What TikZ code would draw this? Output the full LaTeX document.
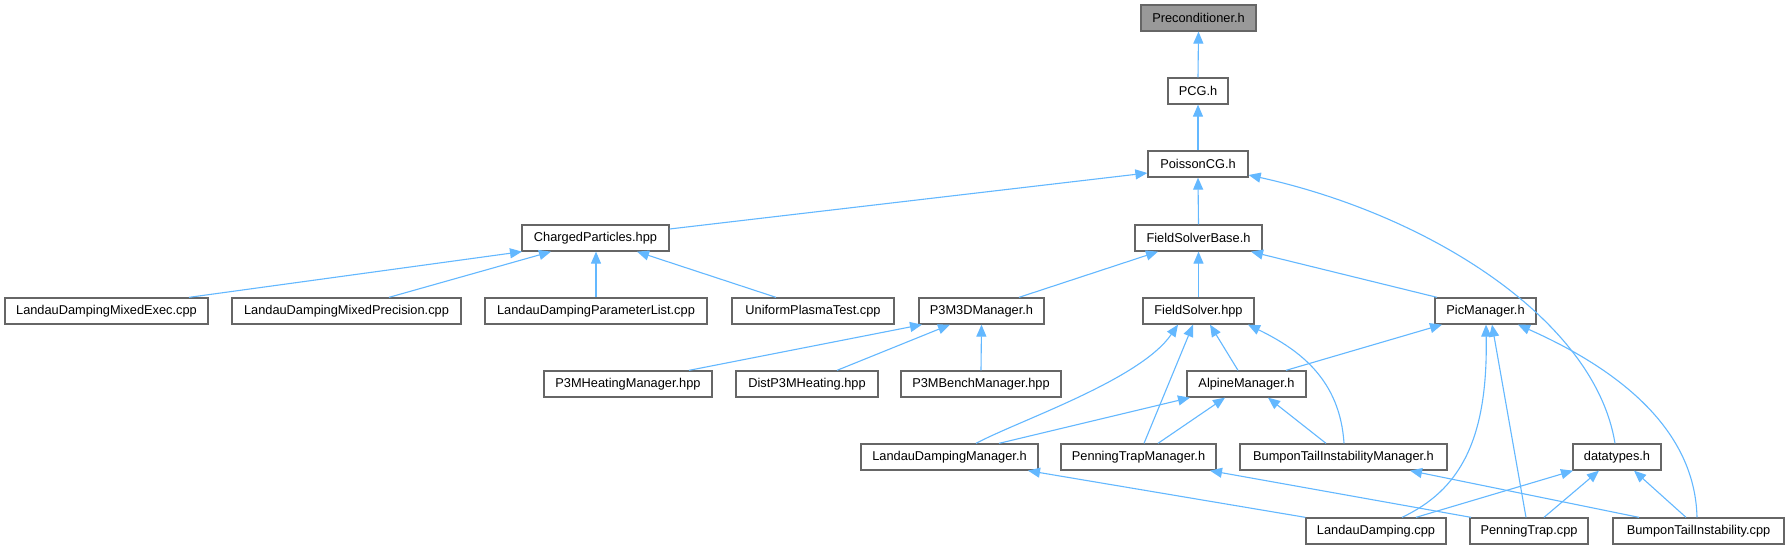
\documentclass[tikz,border=0pt]{standalone}
\usepackage{fontspec}
\setmainfont{Liberation Sans}
\usetikzlibrary{arrows.meta}
\definecolor{edgec}{HTML}{63B8FF}
\definecolor{boxc}{HTML}{666666}
\definecolor{hilite}{HTML}{999999}
\begin{document}
\begin{tikzpicture}[x=0.5pt,y=-0.5pt,
  box/.style={draw=boxc, line width=0.65pt, fill=white, minimum height=13pt, inner sep=0pt,
    font=\fontsize{6.4pt}{7pt}\selectfont, text=black},
  edge/.style={draw=edgec, line width=0.55pt, -{Triangle[length=6pt,width=5pt]}}]
\useasboundingbox[fill=white] (0,0) rectangle (1789,549);
% nodes
\node[box, fill=hilite, minimum width=57.5pt] (pre) at (1198.5,18) {Preconditioner.h};
\node[box, minimum width=30pt] (pcg) at (1198,91) {PCG.h};
\node[box, minimum width=50pt] (pois) at (1198,164) {PoissonCG.h};
\node[box, minimum width=73.5pt] (cp) at (595.5,238) {ChargedParticles.hpp};
\node[box, minimum width=63.5pt] (fsb) at (1198.5,238) {FieldSolverBase.h};
\node[box, minimum width=101.5pt] (ldme) at (106.5,311) {LandauDampingMixedExec.cpp};
\node[box, minimum width=114.5pt] (ldmp) at (346.5,311) {LandauDampingMixedPrecision.cpp};
\node[box, minimum width=111pt] (ldpl) at (596,311) {LandauDampingParameterList.cpp};
\node[box, minimum width=81pt] (upt) at (813,311) {UniformPlasmaTest.cpp};
\node[box, minimum width=62.5pt] (p3m3d) at (981.5,311) {P3M3DManager.h};
\node[box, minimum width=55.5pt] (fs) at (1198.5,311) {FieldSolver.hpp};
\node[box, minimum width=50.5pt] (pic) at (1485.5,311) {PicManager.h};
\node[box, minimum width=84pt] (p3mh) at (628,384) {P3MHeatingManager.hpp};
\node[box, minimum width=71pt] (dist) at (807,384) {DistP3MHeating.hpp};
\node[box, minimum width=80pt] (bench) at (981,384) {P3MBenchManager.hpp};
\node[box, minimum width=59.5pt] (alp) at (1246.5,384) {AlpineManager.h};
\node[box, minimum width=88.5pt] (ldm) at (949.5,457) {LandauDampingManager.h};
\node[box, minimum width=77.5pt] (ptm) at (1138.5,457) {PenningTrapManager.h};
\node[box, minimum width=103.5pt] (btim) at (1343.5,457) {BumponTailInstabilityManager.h};
\node[box, minimum width=44pt] (dt) at (1617,457) {datatypes.h};
\node[box, minimum width=70pt] (ld) at (1376,531) {LandauDamping.cpp};
\node[box, minimum width=59pt] (pt) at (1529,531) {PenningTrap.cpp};
\node[box, minimum width=85.5pt] (bti) at (1698.5,531) {BumponTailInstability.cpp};
% edges
\draw[edge] (pcg.north) -- (pre.south);
\draw[edge] (pois.north) -- (pcg.south);
\draw[edge] (cp.east |- 0,229) -- (pois.west |- 0,173);
\draw[edge] (fsb.north) -- (pois.south);
\draw[edge] (dt.north -| 1615,0) .. controls (1595,320) and (1430,215) .. (pois.east |- 0,175);
\draw[edge] (ldme.north -| 189,0) -- (cp.south -| 522,0);
\draw[edge] (ldmp.north -| 389,0) -- (cp.south -| 551,0);
\draw[edge] (ldpl.north -| 596,0) -- (cp.south -| 596,0);
\draw[edge] (upt.north -| 776,0) -- (cp.south -| 637,0);
\draw[edge] (p3m3d.north -| 1019,0) -- (fsb.south -| 1158,0);
\draw[edge] (fs.north) -- (fsb.south);
\draw[edge] (pic.north -| 1437,0) -- (fsb.south -| 1251,0);
\draw[edge] (p3mh.north -| 689,0) -- (p3m3d.south -| 922,0);
\draw[edge] (dist.north -| 837,0) -- (p3m3d.south -| 950,0);
\draw[edge] (bench.north) -- (p3m3d.south);
\draw[edge] (alp.north -| 1238,0) -- (fs.south -| 1210,0);
\draw[edge] (ldm.north -| 976,0) .. controls (1020,420) and (1140,380) .. (fs.south -| 1178,0);
\draw[edge] (ptm.north -| 1144,0) -- (fs.south -| 1193,0);
\draw[edge] (btim.north -| 1344,0) .. controls (1340,380) and (1300,350) .. (fs.south -| 1248,0);
\draw[edge] (alp.north -| 1286,0) -- (pic.south -| 1442,0);
\draw[edge] (ld.north -| 1402,0) .. controls (1460,490) and (1488,440) .. (pic.south -| 1486,0);
\draw[edge] (pt.north -| 1526,0) -- (pic.south -| 1492,0);
\draw[edge] (bti.north -| 1697,0) .. controls (1695,430) and (1620,370) .. (pic.south -| 1518,0);
\draw[edge] (ldm.north -| 999,0) -- (alp.south -| 1190,0);
\draw[edge] (ptm.north -| 1158,0) -- (alp.south -| 1225,0);
\draw[edge] (btim.north -| 1326,0) -- (alp.south -| 1268,0);
\draw[edge] (ld.north west) -- (ldm.south -| 1028,0);
\draw[edge] (pt.north -| 1471,0) -- (ptm.south -| 1210,0);
\draw[edge] (bti.north -| 1639,0) -- (btim.south -| 1410,0);
\draw[edge] (ld.north -| 1416,0) -- (dt.south -| 1573,0);
\draw[edge] (pt.north -| 1544,0) -- (dt.south -| 1599,0);
\draw[edge] (bti.north -| 1686,0) -- (dt.south -| 1634,0);
\end{tikzpicture}
\end{document}
